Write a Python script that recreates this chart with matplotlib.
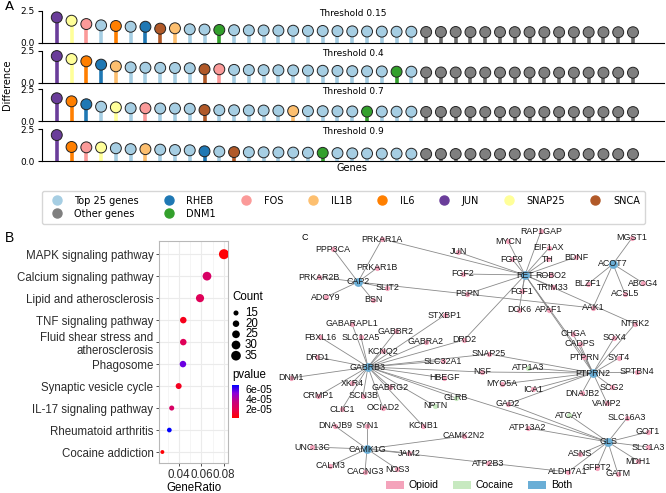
import matplotlib
matplotlib.use("Agg")
import matplotlib.pyplot as plt
from matplotlib.lines import Line2D
from matplotlib.patches import Patch
from matplotlib.colors import LinearSegmentedColormap, Normalize
import matplotlib.cm as cm

W, H = 666, 493
SANS = "Liberation Sans"

# ── Panel A: lollipop data (4 thresholds, 40 genes each) ─────────────
thresholds = ["Threshold 0.15", "Threshold 0.4", "Threshold 0.7", "Threshold 0.9"]

groups_015 = ["JUN", "SNAP25", "FOS", "T", "IL6", "T", "RHEB", "SNCA", "IL1B", "T",
              "T", "DNM1", "T", "T", "T", "T", "T", "T", "T", "T",
              "T", "T", "T", "T", "T",
              "O", "O", "O", "O", "O", "O", "O", "O", "O", "O", "O", "O", "O", "O", "O"]
diff_015 = [2.00, 1.74, 1.48, 1.38, 1.33, 1.27, 1.27, 1.12, 1.15, 1.07,
            1.05, 1.02, 1.00, 0.99, 0.98, 0.97, 0.96, 0.95, 0.94, 0.93,
            0.91, 0.90, 0.89, 0.88, 0.88,
            0.86, 0.86, 0.86, 0.85, 0.85, 0.85, 0.85, 0.85, 0.84, 0.84,
            0.84, 0.84, 0.84, 0.84, 0.84]

groups_04 = ["JUN", "SNAP25", "IL6", "RHEB", "IL1B", "T", "T", "T", "T", "T",
             "SNCA", "FOS", "T", "T", "T", "T", "T", "T", "T", "T",
             "T", "T", "T", "DNM1", "T",
             "O", "O", "O", "O", "O", "O", "O", "O", "O", "O", "O", "O", "O", "O", "O"]
diff_04 = [2.08, 1.85, 1.67, 1.41, 1.28, 1.20, 1.17, 1.16, 1.15, 1.13,
           1.05, 1.05, 1.00, 0.99, 0.98, 0.97, 0.96, 0.95, 0.93, 0.92,
           0.90, 0.89, 0.88, 0.86, 0.86,
           0.80, 0.80, 0.80, 0.79, 0.79, 0.79, 0.79, 0.79, 0.78, 0.78,
           0.78, 0.78, 0.78, 0.78, 0.78]

groups_07 = ["JUN", "IL6", "RHEB", "T", "SNAP25", "T", "FOS", "T", "T", "T",
             "SNCA", "T", "T", "T", "T", "T", "IL1B", "T", "T", "T",
             "T", "DNM1", "T", "T", "T",
             "O", "O", "O", "O", "O", "O", "O", "O", "O", "O", "O", "O", "O", "O", "O"]
diff_07 = [1.80, 1.56, 1.33, 1.14, 1.09, 1.02, 1.02, 1.00, 1.00, 0.98,
           0.88, 0.87, 0.86, 0.85, 0.84, 0.83, 0.80, 0.80, 0.79, 0.78,
           0.77, 0.76, 0.76, 0.75, 0.75,
           0.73, 0.73, 0.73, 0.73, 0.72, 0.72, 0.72, 0.72, 0.72, 0.72,
           0.72, 0.72, 0.72, 0.72, 0.72]

groups_09 = ["JUN", "IL6", "FOS", "SNAP25", "T", "T", "IL1B", "T", "T", "T",
             "RHEB", "T", "SNCA", "T", "T", "T", "T", "T", "DNM1", "T",
             "T", "T", "T", "T", "T",
             "O", "O", "O", "O", "O", "O", "O", "O", "O", "O", "O", "O", "O", "O", "O"]
diff_09 = [2.05, 1.12, 1.09, 1.08, 1.02, 0.95, 0.95, 0.91, 0.88, 0.86,
           0.78, 0.76, 0.72, 0.71, 0.70, 0.69, 0.68, 0.67, 0.66, 0.64,
           0.62, 0.61, 0.60, 0.60, 0.59,
           0.57, 0.57, 0.57, 0.57, 0.56, 0.56, 0.56, 0.56, 0.56, 0.56,
           0.56, 0.56, 0.56, 0.56, 0.56]

rows_groups = [groups_015, groups_04, groups_07, groups_09]
rows_diff = [diff_015, diff_04, diff_07, diff_09]

legend_keys = ["T", "O", "RHEB", "DNM1", "FOS", "IL1B", "IL6", "JUN", "SNAP25", "SNCA"]
legend_names = ["Top 25 genes", "Other genes", "RHEB", "DNM1", "FOS", "IL1B", "IL6",
                "JUN", "SNAP25", "SNCA"]

PAL = {"T": "#a6cee3", "O": "#7f7f7f", "RHEB": "#1f78b4", "DNM1": "#33a02c",
       "FOS": "#fb9a99", "IL1B": "#fdbf6f", "IL6": "#ff7f00", "JUN": "#6a3d9a",
       "SNAP25": "#ffff99", "SNCA": "#b15928"}
STEM = dict(PAL, O="#6a6a6a")

# ── Panel B: KEGG enrichment ─────────────────────────────────────────
pathways = ["MAPK signaling pathway", "Calcium signaling pathway",
            "Lipid and atherosclerosis", "TNF signaling pathway",
            "Fluid shear stress and\natherosclerosis", "Phagosome",
            "Synaptic vesicle cycle", "IL-17 signaling pathway",
            "Rheumatoid arthritis", "Cocaine addiction"]
gene_ratio = [0.0800, 0.0649, 0.0587, 0.0438, 0.0438, 0.0435, 0.0397, 0.0335, 0.0314, 0.0252]
counts = [37, 30, 27, 20, 20, 20, 18, 15, 14, 12]
pvalues = [3e-6, 2.6e-5, 2.2e-5, 8e-6, 2.2e-5, 5.6e-5, 9e-6, 2.6e-5, 6.9e-5, 3e-6]
count_breaks = [15, 20, 25, 30, 35]
pvalue_breaks = [2e-5, 4e-5, 6e-5]

# ── Panel C: network ─────────────────────────────────────────────────
node_names = ["CAP2", "PRKAR1A", "PPP3CA", "PRKAR1B", "PRKAR2B", "SLIT2", "ADCY9", "BSN",
              "RET", "RAP1GAP", "MYCN", "EIF1AX", "JUN", "FGF9", "TH", "BDNF", "FGF2",
              "ROBO2", "TRIM33", "FGF1", "PSPN", "DOK6", "APAF1",
              "ACOT7", "MGST1", "BLZF1", "ABCG4", "ACSL5", "AAK1", "NTRK2",
              "GABRB3", "STXBP1", "GABARAPL1", "GABBR2", "FBXL16", "SLC12A5", "DRD2",
              "GABRA2", "KCNQ2", "DRD1", "SLC32A1", "SNAP25", "NSF", "DNM1", "HBEGF",
              "XKR4", "GABRG2", "CRMP1", "SCN3B", "GLRB", "NPTN", "CLIC1", "OCIAD2", "KCNB1",
              "PTPRN2", "CHGA", "SOX4", "CADPS", "PTPRN", "SYT4", "ATP1A3", "SPTBN4",
              "MYO5A", "ICA1", "SCG2", "DNAJB2", "GAD2", "VAMP2",
              "GLS", "ATCAY", "SLC16A3", "ATP13A2", "GOT1", "SLC1A3", "ASNS", "MDH1",
              "ALDH7A1", "GFPT2", "GATM", "ATP2B3",
              "CAMK1G", "DNAJB9", "SYN1", "CAMK2N2", "UNC13C", "JAM2", "CALM3", "NOS3", "CACNG3"]
node_x = [358, 382, 333, 377, 319, 387, 326, 373,
          525, 541, 508, 549, 458, 512, 548, 576, 463,
          551, 553, 522, 467, 519, 549,
          613, 632, 588, 643, 625, 593, 635,
          368, 445, 352, 396, 320, 361, 464,
          426, 383, 317, 443, 489, 482, 291, 444,
          352, 390, 318, 363, 456, 435, 342, 383, 423,
          593, 573, 614, 580, 584, 619, 528, 637,
          502, 533, 612, 582, 508, 607,
          608, 569, 627, 528, 648, 648, 580, 638,
          568, 597, 618, 488,
          367, 335, 367, 464, 312, 409, 330, 397, 365]
node_y = [282, 239, 249, 268, 277, 288, 297, 300,
          275, 231, 241, 248, 252, 259, 259, 257, 274,
          275, 287, 291, 294, 310, 310,
          264, 238, 284, 283, 294, 308, 324,
          367, 315, 324, 331, 337, 337, 340,
          342, 351, 357, 361, 354, 372, 378, 378,
          383, 387, 396, 396, 398, 406, 409, 408, 426,
          373, 334, 338, 344, 357, 358, 368, 372,
          384, 389, 387, 393, 404, 403,
          442, 415, 418, 428, 432, 447, 454, 461,
          472, 468, 474, 463,
          449, 426, 426, 436, 447, 453, 466, 469, 472]
hubs = ["CAP2", "RET", "ACOT7", "GABRB3", "PTPRN2", "GLS", "CAMK1G"]
cocaine_nodes = ["ATP1A3", "NPTN", "GLRB", "ATCAY"]

edges = [("CAP2", n) for n in ["PRKAR1A", "PPP3CA", "PRKAR1B", "PRKAR2B", "SLIT2", "ADCY9", "BSN", "AAK1"]] + \
        [("RET", n) for n in ["PRKAR1A", "RAP1GAP", "MYCN", "EIF1AX", "JUN", "FGF9", "TH", "BDNF",
                              "FGF2", "ROBO2", "TRIM33", "FGF1", "PSPN", "DOK6", "APAF1",
                              "NTRK2", "DRD2", "PTPRN2", "PTPRN"]] + \
        [("ACOT7", n) for n in ["MGST1", "BLZF1", "ABCG4", "ACSL5", "AAK1"]] + \
        [("GABRB3", n) for n in ["STXBP1", "GABARAPL1", "GABBR2", "FBXL16", "SLC12A5", "DRD2",
                                 "GABRA2", "KCNQ2", "DRD1", "SLC32A1", "SNAP25", "NSF", "DNM1",
                                 "HBEGF", "XKR4", "GABRG2", "CRMP1", "SCN3B", "GLRB", "NPTN",
                                 "CLIC1", "OCIAD2", "KCNB1", "GLS"]] + \
        [("PTPRN2", n) for n in ["CHGA", "SOX4", "CADPS", "PTPRN", "SYT4", "ATP1A3", "SPTBN4",
                                 "MYO5A", "ICA1", "SCG2", "DNAJB2", "GAD2", "VAMP2", "NTRK2",
                                 "SNAP25", "NSF"]] + \
        [("GLS", n) for n in ["ATCAY", "SLC16A3", "ATP13A2", "GOT1", "SLC1A3", "ASNS", "MDH1",
                              "ALDH7A1", "GFPT2", "GATM", "GAD2"]] + \
        [("CAMK1G", n) for n in ["DNAJB9", "SYN1", "CAMK2N2", "UNC13C", "JAM2", "CALM3", "NOS3",
                                 "CACNG3", "ATP2B3"]] + \
        [("ATP2B3", "ALDH7A1")]

C_COLORS = {"Opioid": "#f4a3bb", "Cocaine": "#c7e9c0", "Both": "#6aaed6"}


# ══════════════════════════════════════════════════════════════
fig = plt.figure(figsize=(W / 100, H / 100), dpi=100)


def px_axes(left, top, right, bottom):
    return fig.add_axes([left / W, 1 - bottom / H, (right - left) / W, (bottom - top) / H])


# ── Panel A ─────────────────────────────────────────────────────
row_tops = [11, 50.7, 89.3, 129.3]
for title, groups, diffs, top in zip(thresholds, rows_groups, rows_diff, row_tops):
    ax = px_axes(42, top, 664, top + 32)
    xs = range(len(diffs))
    ax.vlines(xs, 0, diffs, colors=[STEM[g] for g in groups], lw=2.6, zorder=1)
    ax.scatter(xs, diffs, s=62, c=[PAL[g] for g in groups], edgecolors="#222222",
               linewidths=0.7, zorder=2, clip_on=False)
    ax.set_xlim(-1, 41.1)
    ax.set_ylim(0, 2.5)
    ax.set_yticks([0.0, 2.5])
    ax.set_xticks([])
    ax.tick_params(labelsize=6.5, length=3, width=0.8, pad=2)
    for s in ["top", "right"]:
        ax.spines[s].set_visible(False)
    ax.spines["left"].set_linewidth(0.8)
    ax.spines["bottom"].set_linewidth(0.8)
    ax.patch.set_alpha(0)
    ax.text(0.5, 0.92, title, transform=ax.transAxes, ha="center", va="center", fontsize=6.5)

handles = [Line2D([], [], marker="o", ls="", color=PAL[k], markersize=6.5) for k in legend_keys]
fig.legend(handles, legend_names, ncol=8, fontsize=7.0, columnspacing=2.1, labelspacing=0.3,
           loc="center", bbox_to_anchor=(343.4 / W, 1 - 207.2 / H), borderpad=0.5)

# ── Panel B ─────────────────────────────────────────────────────
cmap = LinearSegmentedColormap.from_list(
    "redblue", ["#ff0000", "#e5004f", "#c5007f", "#8c00d8", "#0000ff"])
norm = Normalize(vmin=2e-6, vmax=6.9e-5)


def dot_size(c):
    return (c - 7.5) * 1.76


axb = px_axes(159, 241, 228, 463)
ypos = list(range(len(pathways)))
axb.scatter(gene_ratio, ypos, s=[dot_size(c) for c in counts], c=pvalues, cmap=cmap,
            norm=norm, zorder=3, linewidths=0)
axb.set_xlim(0.0222, 0.0836)
axb.set_ylim(9.5, -0.6)
axb.set_yticks(ypos)
axb.set_yticklabels(pathways, fontsize=8.3, family=SANS, color="#2b2b2b")
for lab in axb.get_yticklabels():
    lab.set_multialignment("right")
axb.set_xticks([0.04, 0.06, 0.08])
axb.set_xticklabels(["0.04", "0.06", "0.08"], fontsize=8.3, family=SANS, color="#2b2b2b")
axb.set_xticks([0.03, 0.05, 0.07], minor=True)
axb.tick_params(which="major", length=2.5, width=0.6, color="#333333", pad=1.5)
axb.tick_params(which="minor", length=0)
axb.grid(True, which="major", color="#ebebeb", lw=0.8, zorder=0)
axb.grid(True, which="minor", axis="x", color="#f2f2f2", lw=0.5, zorder=0)
axb.set_axisbelow(True)
for s in axb.spines.values():
    s.set_color("#b8b8b8")
    s.set_linewidth(0.8)
axb.set_xlabel("GeneRatio", fontsize=8.3, family=SANS, labelpad=1)

cax = px_axes(232, 385, 239, 418)
sm = cm.ScalarMappable(norm=norm, cmap=cmap)
cb = fig.colorbar(sm, cax=cax)
cb.outline.set_visible(False)
cb.set_ticks(pvalue_breaks)
cb.set_ticklabels(["2e-05", "4e-05", "6e-05"])
cax.tick_params(length=0, labelsize=7.6, pad=5)
for lab in cax.get_yticklabels():
    lab.set_family(SANS)

# ── Panel C ─────────────────────────────────────────────────────
axc = px_axes(290, 225, 666, 493)
axc.set_xlim(290, 666)
axc.set_ylim(493, 225)
axc.axis("off")
pos = {n: (x, y) for n, x, y in zip(node_names, node_x, node_y)}
for a, b in edges:
    axc.plot([pos[a][0], pos[b][0]], [pos[a][1], pos[b][1]], color="#8a8a8a", lw=0.6, zorder=1)
for n in node_names:
    if n in hubs:
        grp, size = "Both", 40
    elif n in cocaine_nodes:
        grp, size = "Cocaine", 14
    else:
        grp, size = "Opioid", 14
    axc.scatter(*pos[n], s=size, color=C_COLORS[grp], linewidths=0, zorder=2)
    axc.text(pos[n][0], pos[n][1], n, ha="center", va="center", fontsize=6.4,
             family=SANS, color="#1a1a1a", zorder=3)
c_handles = [Patch(facecolor=C_COLORS[k], edgecolor="none", label=k) for k in ["Opioid", "Cocaine", "Both"]]
fig.legend(handles=c_handles, ncol=3, frameon=False, prop={"family": SANS, "size": 7.5},
           handlelength=1.75, handleheight=0.9, handletextpad=0.45, columnspacing=1.35,
           loc="center", bbox_to_anchor=(479 / W, 1 - 485.5 / H))

# ── overlay: panel letters, axis titles, size legend ───────────
ov = fig.add_axes([0, 0, 1, 1])
ov.set_xlim(0, W)
ov.set_ylim(H, 0)
ov.axis("off")
ov.patch.set_alpha(0)
ov.text(9, 7, "A", fontsize=9.5, ha="center", va="center")
ov.text(7, 85, "Difference", fontsize=7, rotation=90, ha="center", va="center")
ov.text(351.7, 168.3, "Genes", fontsize=7, ha="center", va="center")
ov.text(10, 238, "B", fontsize=10, family=SANS, ha="center", va="center")
ov.text(305, 237, "C", fontsize=6.5, family=SANS, ha="center", va="center")

ov.text(232, 297, "Count", fontsize=8.3, family=SANS, ha="left", va="center")
leg_y = [313, 323.7, 334.3, 345, 355.7]
ov.scatter([236] * len(count_breaks), leg_y, s=[dot_size(c) for c in count_breaks],
           color="black", linewidths=0)
for c, y in zip(count_breaks, leg_y):
    ov.text(245, y, str(c), fontsize=8.3, family=SANS, ha="left", va="center")
ov.text(232, 375, "pvalue", fontsize=8.3, family=SANS, ha="left", va="center")

fig.savefig("out.png", dpi=100)
